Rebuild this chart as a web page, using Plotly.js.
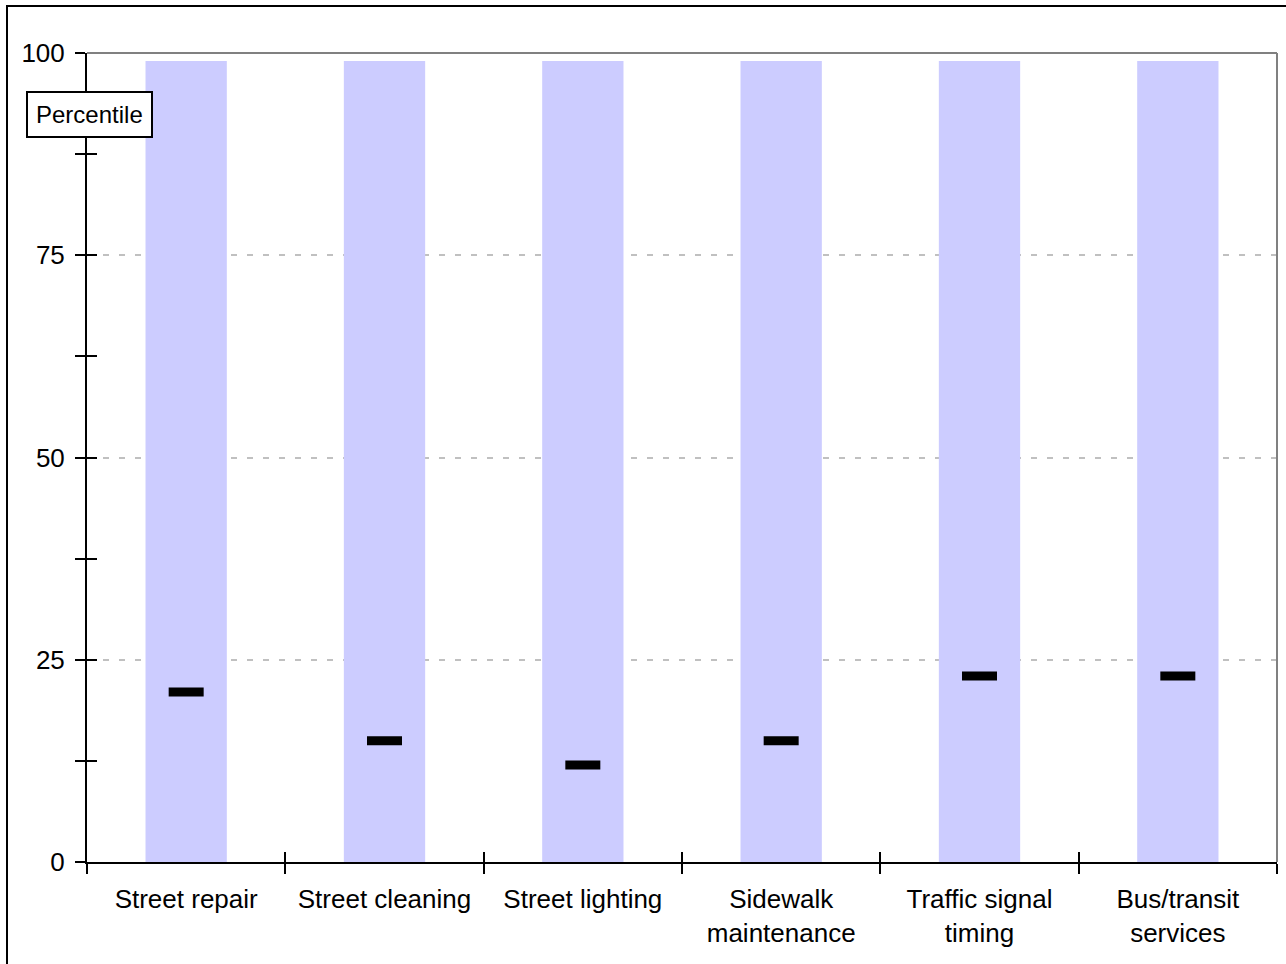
<!DOCTYPE html>
<html>
<head>
<meta charset="utf-8">
<script src="https://cdn.plot.ly/plotly-3.0.1.min.js"></script>
<style>
  html, body { margin: 0; padding: 0; background: #fff; overflow: hidden; }
  #plot { position: absolute; left: 0; top: 0; width: 1286px; height: 964px; }
  #frame { position: absolute; left: 6px; top: 5px; width: 1400px; height: 1100px;
           border: 2px solid #000; pointer-events: none; }
</style>
</head>
<body>
<div id="plot"></div>
<div id="frame"></div>
<script>
const categories = ["Street repair", "Street cleaning", "Street lighting",
                    "Sidewalk<br>maintenance", "Traffic signal<br>timing", "Bus/transit<br>services"];
const rangeTop = [99, 99, 99, 99, 99, 99];
const percentile = [21, 15, 12, 15, 23, 23];
const yTickVals = [0, 25, 50, 75, 100];
const yTickText = ["0", "25", "50", "75", "100"];
const yMinorVals = [12.5, 37.5, 62.5, 87.5];
const labelText = "Percentile";

const FONT = "Liberation Sans, Arial, sans-serif";

const traces = [
  {
    type: "bar",
    x: categories,
    y: rangeTop,
    width: 0.41,
    marker: { color: "#ccccff", line: { width: 0 } },
    hoverinfo: "skip",
    xaxis: "x", yaxis: "y"
  },
  {
    type: "scatter",
    mode: "markers",
    x: categories,
    y: percentile,
    marker: { symbol: "line-ew", size: 25, color: "#000",
              line: { color: "#000", width: 9 } },
    xaxis: "x2", yaxis: "y2"
  }
];

const xCommon = {
  type: "category",
  categoryorder: "array",
  categoryarray: categories,
  range: [-0.5, 5.5],
  tickson: "boundaries",
  ticklen: 10,
  tickwidth: 2,
  tickcolor: "#000",
  showgrid: false,
  zeroline: false,
  fixedrange: true
};
const yCommon = {
  range: [0, 100],
  tickmode: "array",
  tickvals: yTickVals,
  ticktext: yTickText,
  ticklen: 10,
  tickwidth: 2,
  tickcolor: "#000",
  zeroline: false,
  fixedrange: true
};

const layout = {
  width: 1286,
  height: 964,
  margin: { l: 87, r: 9, t: 53, b: 102, pad: 0 },
  paper_bgcolor: "rgba(0,0,0,0)",
  plot_bgcolor: "#fff",
  showlegend: false,
  font: { family: FONT, size: 26, color: "#000" },
  xaxis: Object.assign({}, xCommon, {
    ticks: "outside",
    showline: true, linecolor: "#000", linewidth: 2,
    tickfont: { family: FONT, size: 26, color: "#000" },
    ticklabelstandoff: 13
  }),
  xaxis2: Object.assign({}, xCommon, {
    overlaying: "x", anchor: "y2", side: "bottom",
    ticks: "inside", showticklabels: false, showline: false
  }),
  yaxis: Object.assign({}, yCommon, {
    ticks: "outside",
    showline: true, linecolor: "#000", linewidth: 2,
    showgrid: true, gridcolor: "#c0c0c0", gridwidth: 2, griddash: "6px,10px",
    tickfont: { family: FONT, size: 26, color: "#000" },
    ticklabelstandoff: 5,
    minor: { tickmode: "array", tickvals: yMinorVals,
             ticks: "outside", ticklen: 10, tickwidth: 2, tickcolor: "#000", showgrid: false }
  }),
  yaxis2: Object.assign({}, yCommon, {
    overlaying: "y", anchor: "x2", side: "left",
    ticks: "inside", showticklabels: false, showline: false, showgrid: false,
    minor: { tickmode: "array", tickvals: yMinorVals,
             ticks: "inside", ticklen: 10, tickwidth: 2, tickcolor: "#000", showgrid: false }
  }),
  shapes: [
    { type: "line", xref: "paper", yref: "paper", x0: 0, x1: 1, y0: 1, y1: 1,
      line: { color: "#808080", width: 2 }, layer: "above" },
    { type: "line", xref: "paper", yref: "paper", x0: 1, x1: 1, y0: 0, y1: 1,
      line: { color: "#808080", width: 2 }, layer: "above" }
  ],
  annotations: [
    { text: labelText, xref: "paper", yref: "paper",
      x: 0.0021, y: 0.9245, xanchor: "center", yanchor: "middle",
      showarrow: false, bgcolor: "#fff", bordercolor: "#000", borderwidth: 2,
      borderpad: 8, font: { family: FONT, size: 24, color: "#000" } }
  ]
};

Plotly.newPlot("plot", traces, layout, { displayModeBar: false, staticPlot: true });
</script>
</body>
</html>
